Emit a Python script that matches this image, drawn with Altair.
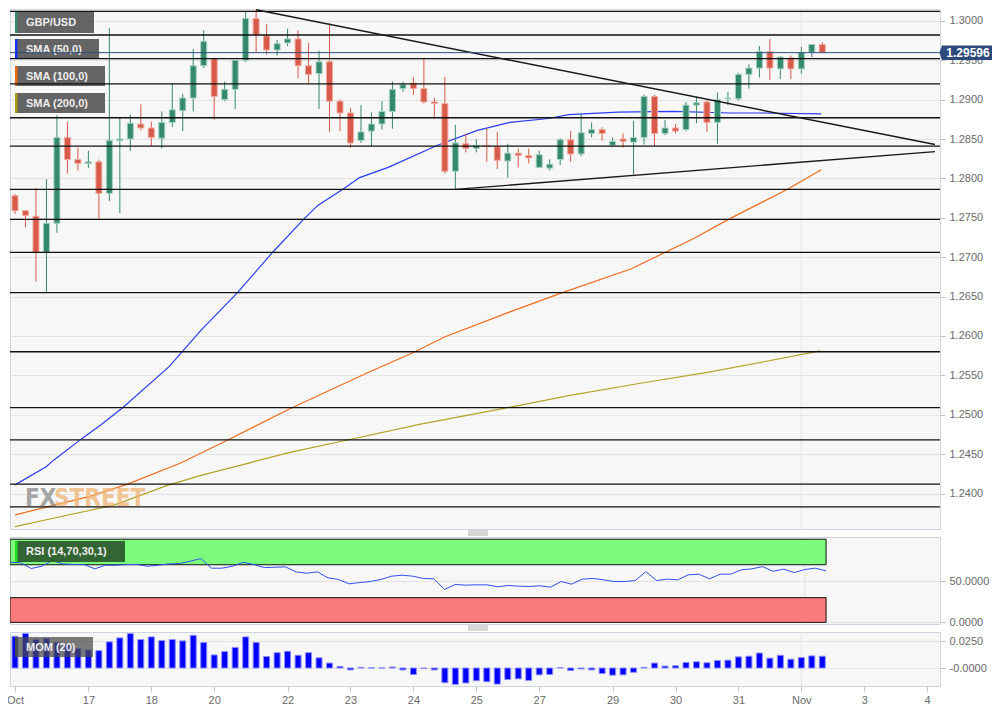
import altair as alt
import pandas as pd

FONT = "Liberation Sans, Arial, sans-serif"

# ---------------- data (GBP/USD, 4-hour candles) ----------------
opens = [1.2778, 1.2759, 1.2752, 1.2706, 1.2743, 1.2852, 1.2824, 1.2819, 1.2821, 1.2781,
         1.2848, 1.2850, 1.2869, 1.2864, 1.2851, 1.2871, 1.2886, 1.2902, 1.2943, 1.2952,
         1.2900, 1.2913, 1.2950, 1.3003, 1.2981, 1.2963, 1.2972, 1.2977, 1.2943, 1.2933,
         1.2948, 1.2898, 1.2883, 1.2848, 1.2860, 1.2869, 1.2885, 1.2914, 1.2921, 1.2914,
         1.2897, 1.2895, 1.2809, 1.2844, 1.2838, 1.2842, 1.2840, 1.2822, 1.2832, 1.2829,
         1.2814, 1.2813, 1.2824, 1.2849, 1.2831, 1.2857, 1.2862, 1.2842, 1.2850, 1.2846,
         1.2852, 1.2904, 1.2857, 1.2864, 1.2862, 1.2893, 1.2897, 1.2871, 1.2901, 1.2901,
         1.2932, 1.2940, 1.2961, 1.2939, 1.2953, 1.2939, 1.2960, 1.2970]
highs = [1.2780, 1.2760, 1.2788, 1.2799, 1.2880, 1.2872, 1.2839, 1.2835, 1.2824, 1.2991,
         1.2878, 1.2881, 1.2894, 1.2872, 1.2885, 1.2921, 1.2907, 1.2964, 1.2988, 1.2953,
         1.2923, 1.2950, 1.3012, 1.3014, 1.2996, 1.2976, 1.2990, 1.2988, 1.2972, 1.2962,
         1.2997, 1.2900, 1.2889, 1.2893, 1.2884, 1.2898, 1.2923, 1.2923, 1.2929, 1.2952,
         1.2902, 1.2929, 1.2868, 1.2857, 1.2850, 1.2863, 1.2859, 1.2844, 1.2838, 1.2838,
         1.2835, 1.2824, 1.2851, 1.2860, 1.2882, 1.2871, 1.2865, 1.2852, 1.2857, 1.2873,
         1.2906, 1.2906, 1.2874, 1.2869, 1.2897, 1.2904, 1.2899, 1.2909, 1.2910, 1.2934,
         1.2945, 1.2968, 1.2977, 1.2955, 1.2956, 1.2967, 1.2970, 1.2973]
lows = [1.2755, 1.2738, 1.2669, 1.2655, 1.2731, 1.2806, 1.2810, 1.2813, 1.2748, 1.2771,
        1.2756, 1.2835, 1.2861, 1.2841, 1.2838, 1.2865, 1.2860, 1.2885, 1.2940, 1.2874,
        1.2898, 1.2888, 1.2948, 1.2960, 1.2957, 1.2956, 1.2968, 1.2927, 1.2921, 1.2888,
        1.2859, 1.2860, 1.2839, 1.2845, 1.2841, 1.2862, 1.2863, 1.2910, 1.2906, 1.2895,
        1.2876, 1.2806, 1.2786, 1.2833, 1.2833, 1.2821, 1.2812, 1.2801, 1.2814, 1.2819,
        1.2813, 1.2810, 1.2817, 1.2821, 1.2828, 1.2852, 1.2848, 1.2840, 1.2839, 1.2805,
        1.2843, 1.2841, 1.2855, 1.2857, 1.2860, 1.2870, 1.2859, 1.2844, 1.2893, 1.2899,
        1.2914, 1.2928, 1.2925, 1.2926, 1.2926, 1.2933, 1.2954, 1.2960]
closes = [1.2759, 1.2753, 1.2706, 1.2743, 1.2852, 1.2824, 1.2819, 1.2821, 1.2781, 1.2848,
          1.2850, 1.2870, 1.2864, 1.2852, 1.2871, 1.2887, 1.2902, 1.2943, 1.2974, 1.2904,
          1.2913, 1.2950, 1.3003, 1.2982, 1.2963, 1.2971, 1.2977, 1.2943, 1.2932, 1.2948,
          1.2898, 1.2883, 1.2845, 1.2859, 1.2869, 1.2885, 1.2913, 1.2919, 1.2914, 1.2897,
          1.2895, 1.2809, 1.2845, 1.2838, 1.2842, 1.2841, 1.2823, 1.2832, 1.2829, 1.2826,
          1.2830, 1.2818, 1.2849, 1.2831, 1.2858, 1.2862, 1.2857, 1.2847, 1.2847, 1.2852,
          1.2904, 1.2857, 1.2864, 1.2860, 1.2893, 1.2896, 1.2871, 1.2900, 1.2902, 1.2932,
          1.2940, 1.2961, 1.2940, 1.2954, 1.2939, 1.2960, 1.2970, 1.29596]

sma50_x = [0, 2.97, 3.75, 6.4, 8.17, 10.27, 14.7, 17.73, 21.22, 24.49, 27.52, 28.91, 31.24,
           32.87, 35.6, 40.3, 44.1, 47.2, 50.9, 52.8, 57.5, 62.8, 68.2, 71.25, 76.9]
sma50_y = [1.2411, 1.2434, 1.2443, 1.2470, 1.2487, 1.2509, 1.2561, 1.2607, 1.2655, 1.2705,
           1.2748, 1.2766, 1.2786, 1.2801, 1.2814, 1.2842, 1.2861, 1.2871, 1.2876, 1.2881,
           1.2884, 1.2885, 1.2883, 1.2883, 1.2882]
sma100_x = [0, 3.09, 7.01, 10.74, 15.86, 20.29, 26.12, 33.57, 38.0, 41.02, 47.08, 52.21,
            58.73, 64.79, 68.05, 73.64, 76.9]
sma100_y = [1.2373, 1.2383, 1.2396, 1.2412, 1.2439, 1.2468, 1.2507, 1.2553, 1.2579, 1.2599,
            1.2630, 1.2655, 1.2685, 1.2724, 1.2748, 1.2786, 1.2811]
sma200_x = [0, 3.75, 9.37, 14.47, 17.73, 22.39, 26.12, 31.71, 38.7, 46.62, 52.68, 59.66,
            66.19, 71.31, 76.81]
sma200_y = [1.2358, 1.2369, 1.2385, 1.2410, 1.2423, 1.2439, 1.2452, 1.2468, 1.2488, 1.2508,
            1.2524, 1.2540, 1.2554, 1.2567, 1.2581]

rsi_vals = [73.0, 72.5, 65.4, 68.2, 75.1, 71.0, 70.2, 70.2, 65.0, 69.4,
            69.4, 70.2, 70.2, 68.2, 69.4, 71.0, 71.4, 74.3, 77.5, 65.8,
            65.8, 68.2, 73.0, 70.2, 66.6, 67.0, 67.4, 61.3, 59.7, 61.3,
            54.1, 52.1, 46.8, 48.4, 49.6, 52.1, 56.1, 57.3, 56.1, 53.3,
            52.9, 40.0, 46.0, 45.2, 45.6, 45.6, 43.2, 44.8, 44.0, 43.6,
            44.4, 42.8, 49.6, 46.4, 52.5, 53.3, 51.7, 49.6, 49.6, 50.8,
            61.7, 50.8, 52.5, 51.7, 57.7, 58.5, 52.9, 58.5, 58.5, 63.8,
            65.0, 67.8, 62.1, 64.6, 60.5, 64.2, 65.8, 62.6]
mom_vals = [0.0296, 0.0321, 0.0266, 0.0275, 0.0240, 0.0220, 0.0183, 0.0168, 0.0162, 0.0244,
            0.0281, 0.0321, 0.0266, 0.0290, 0.0256, 0.0266, 0.0253, 0.0305, 0.0238, 0.0122,
            0.0153, 0.0192, 0.0290, 0.0238, 0.0107, 0.0143, 0.0156, 0.0119, 0.0143, 0.0095,
            0.0046, 0.0015, -0.0018, 0.0006, 0.0002, 0.0001, 0.0009, -0.0018, -0.0061, -0.0005,
            -0.0018, -0.0137, -0.0153, -0.0140, -0.0119, -0.0128, -0.0150, -0.0107, -0.0101, -0.0116,
            -0.0064, -0.0061, 0.0003, -0.0024, -0.0009, -0.0018, -0.0052, -0.0067, -0.0064, -0.0040,
            0.0006, 0.0046, 0.0018, 0.0021, 0.0052, 0.0058, 0.0049, 0.0070, 0.0073, 0.0104,
            0.0110, 0.0140, 0.0092, 0.0119, 0.0082, 0.0098, 0.0113, 0.0110]

levels = [1.3012, 1.2982, 1.2952, 1.2920, 1.2877, 1.2841, 1.2786, 1.2748, 1.2706, 1.2655,
          1.2580, 1.2509, 1.2468, 1.2412, 1.2383]
last_price = [1.29596]
down_x = [23, 87.75]
down_y = [1.3014, 1.2843]
up_x = [42, 87.75]
up_y = [1.2786, 1.2834]

tick_idx = [0, 7, 13, 19, 26, 32, 38, 44, 50, 57, 63, 69, 75, 81, 87]
tick_lbl = ["Oct", "17", "18", "20", "22", "23", "24", "25", "27", "29", "30", "31", "Nov", "3", "4"]
price_ticks = [1.240, 1.245, 1.250, 1.255, 1.260, 1.265, 1.270, 1.275, 1.280, 1.285,
               1.290, 1.295, 1.300]
month_idx = [75]
legend_labels = ["GBP/USD", "SMA (50,0)", "SMA (100,0)", "SMA (200,0)"]
band_end = [77]

# ---------------- layout / style ----------------
W = 930
H_MAIN = 520
H_RSI = 87
H_MOM = 54
GAP = 8
X_DOMAIN = [0, 87.75]
GREEN, GREEN_EDGE = "#35896c", "#a3d2c2"
RED, RED_EDGE = "#d85a48", "#f2aaa0"
LABEL_GRAY = "#6a6a6a"
TICK_C = "#b9c3d6"

xscale = alt.Scale(domain=X_DOMAIN, nice=False, zero=False)


def Xn(field):
    return alt.X(field, type="quantitative", scale=xscale, axis=None)


lbl_expr = ("[" + ",".join("'%s'" % s for s in tick_lbl) + "][indexof(["
            + ",".join(str(v) for v in tick_idx) + "], datum.value)]")
x_axis_bottom = alt.Axis(values=tick_idx, labelExpr=lbl_expr, grid=False, tickSize=5,
                         tickColor=TICK_C, domain=False, labelFontSize=11, labelFont=FONT,
                         labelColor=LABEL_GRAY, labelPadding=3, title=None,
                         labelFlush=True, labelOverlap=False)


def Xb(field):
    return alt.X(field, type="quantitative", scale=xscale, axis=x_axis_bottom)


y_main_scale = alt.Scale(domain=[1.2355, 1.3015], nice=False, zero=False)
y_main_axis = alt.Axis(orient="right", values=price_ticks, format=".4f", grid=True,
                       gridColor="#e3e3e3", tickSize=5, tickColor=TICK_C, domain=False,
                       labelPadding=4, labelFontSize=11, labelFont=FONT,
                       labelColor=LABEL_GRAY, title=None)


def Ym(field):
    return alt.Y(field, type="quantitative", scale=y_main_scale, axis=y_main_axis)


def label_box(text, x0, x1, y0, y1, bg, bg_op, strip, tcolor):
    d = alt.Chart(pd.DataFrame({"t": [text]}))
    r = d.mark_rect(color=bg, opacity=bg_op).encode(
        x=alt.value(x0), x2=alt.value(x1), y=alt.value(y0), y2=alt.value(y1))
    s = d.mark_rect(color=strip).encode(
        x=alt.value(x0), x2=alt.value(x0 + 2.5), y=alt.value(y0), y2=alt.value(y1))
    t = d.mark_text(align="left", baseline="middle", font=FONT, fontSize=11,
                    fontWeight="bold", color=tcolor).encode(
        x=alt.value(x0 + 11), y=alt.value((y0 + y1) / 2 + 0.5), text="t:N")
    return [r, s, t]


def handle(y0):
    d = alt.Chart(pd.DataFrame({"k": [0]}))
    return [d.mark_rule(color="#9a9a9a", strokeWidth=0.8).encode(
        x=alt.value(458), x2=alt.value(478), y=alt.value(y0 + 2 * k)) for k in range(3)]


# ---------------- main panel ----------------
candles = pd.DataFrame({"i": list(range(len(opens))), "o": opens, "h": highs,
                        "l": lows, "c": closes})
up_cond = "datum.c >= datum.o"

month_rule = alt.Chart(pd.DataFrame({"m": month_idx})).mark_rule(
    color="#e3e3e3", strokeWidth=1).encode(x=Xn("m"))

level_rules = alt.Chart(pd.DataFrame({"lv": levels})).mark_rule(
    color="#111111", strokeWidth=1.3).encode(y=Ym("lv"))

sma_layers = []
for xs_, ys_, col in [(sma200_x, sma200_y, "#b4a324"), (sma100_x, sma100_y, "#f06c1e"),
                      (sma50_x, sma50_y, "#2a3cf5")]:
    sma_layers.append(alt.Chart(pd.DataFrame({"i": xs_, "v": ys_})).mark_line(
        color=col, strokeWidth=1.2, clip=True).encode(x=Xn("i"), y=Ym("v")))

wicks = alt.Chart(candles).mark_rule(strokeWidth=1, clip=True).encode(
    x=Xn("i"), y=Ym("l"), y2="h:Q",
    color=alt.condition(up_cond, alt.value(GREEN), alt.value(RED)))
bodies = alt.Chart(candles).mark_bar(size=6, strokeWidth=1, clip=True).encode(
    x=Xn("i"), y=Ym("o"), y2="c:Q",
    fill=alt.condition(up_cond, alt.value(GREEN), alt.value(RED)),
    stroke=alt.condition(up_cond, alt.value(GREEN_EDGE), alt.value(RED_EDGE)))

trend_layers = []
for tx, ty in [(down_x, down_y), (up_x, up_y)]:
    trend_layers.append(alt.Chart(pd.DataFrame({"i": tx, "v": ty})).mark_line(
        color="#1a1a1a", strokeWidth=1.4, clip=True).encode(x=Xn("i"), y=Ym("v")))

price_df = pd.DataFrame({"p": last_price})
price_line = alt.Chart(price_df).mark_rule(color="#2f4f80", strokeWidth=1).encode(y=Ym("p"))
tag_shape = "M-1.1,0L-1,-0.29L1,-0.29L1,0.29L-1,0.29Z"
price_tag = alt.Chart(price_df).mark_point(
    shape=tag_shape, size=2500, filled=True, color="#2d4a7a", opacity=1, strokeWidth=0
).encode(x=alt.value(W + 27), y=Ym("p"))
price_txt = alt.Chart(price_df).transform_calculate(
    t="format(datum.p, '.5f')").mark_text(
    font=FONT, fontSize=12, fontWeight="bold", color="white", align="center",
    baseline="middle").encode(x=alt.value(W + 28), y=Ym("p"), text="t:N")

wm = alt.Chart(pd.DataFrame({"a": ["FX"], "b": ["STREET"]}))
wm_fx = wm.mark_text(font="DejaVu Sans Condensed", fontWeight="bold", fontSize=24,
                     color="#8a8a8a", opacity=0.75, align="left", baseline="alphabetic").encode(
    x=alt.value(15), y=alt.value(H_MAIN - 23), text="a:N")
wm_st = wm.mark_text(font="DejaVu Sans Condensed", fontWeight="bold", fontSize=24,
                     color="#f0b472", opacity=0.75, align="left", baseline="alphabetic").encode(
    x=alt.value(44), y=alt.value(H_MAIN - 23), text="b:N")

boxes = []
box_geo = [(84, 3, 24, GREEN), (89, 30, 50, "#1530ff"), (95, 57, 77, "#e8680f"),
           (95, 84, 104, "#ab9c12")]
for lab, (x1, y0, y1, sc) in zip(legend_labels, box_geo):
    boxes += label_box(lab, 5, x1, y0, y1, "#5f5f5f", 0.97, sc, "#eeeeee")

main = alt.layer(
    month_rule, *sma_layers, wicks, bodies, *boxes, level_rules, *trend_layers,
    price_line, wm_fx, wm_st, price_tag, price_txt, *handle(H_MAIN + 2)
).properties(width=W, height=H_MAIN)

# ---------------- RSI panel ----------------
y_rsi_scale = alt.Scale(domain=[-2, 103.7], nice=False, zero=False)
y_rsi_axis = alt.Axis(orient="right", values=[0, 50], format=".4f", grid=True,
                      gridColor="#e3e3e3", tickSize=5, tickColor=TICK_C, domain=False,
                      labelPadding=4, labelFontSize=11, labelFont=FONT,
                      labelColor=LABEL_GRAY, title=None)


def Yr(field):
    return alt.Y(field, type="quantitative", scale=y_rsi_scale, axis=y_rsi_axis)


bands = pd.DataFrame({"x0": [X_DOMAIN[0]] * 2, "x1": band_end * 2, "lo": [70, 0],
                      "hi": [101, 30], "kind": ["ob", "os"]})
band_layer = alt.Chart(bands).mark_rect(stroke="#111111", strokeWidth=1, clip=True).encode(
    x=Xn("x0"), x2="x1:Q", y=Yr("lo"), y2="hi:Q",
    fill=alt.condition("datum.kind == 'ob'", alt.value("#7cfb7c"), alt.value("#fa7b7b")))
rsi_df = pd.DataFrame({"i": list(range(len(rsi_vals))), "r": rsi_vals})
rsi_line = alt.Chart(rsi_df).mark_line(color="#3050f0", strokeWidth=1, clip=True).encode(
    x=Xn("i"), y=Yr("r"))
rsi_month = alt.Chart(pd.DataFrame({"m": month_idx})).mark_rule(
    color="#e3e3e3", strokeWidth=1).encode(x=Xn("m"))
rsi = alt.layer(
    rsi_month, band_layer, rsi_line,
    *label_box("RSI (14,70,30,1)", 5, 115, 4, 25, "#2f5c2f", 0.95, "#22e022", "#eeeeee"),
    *handle(H_RSI + 2)
).properties(width=W, height=H_RSI)

# ---------------- MOM panel ----------------
y_mom_scale = alt.Scale(domain=[-0.0168, 0.0336], nice=False, zero=False)
y_mom_axis = alt.Axis(orient="right", values=[0, 0.025], grid=True, gridColor="#e3e3e3",
                      labelExpr="datum.value == 0 ? '-0.0000' : format(datum.value, '.4f')",
                      tickSize=5, tickColor=TICK_C, domain=False, labelPadding=4,
                      labelFontSize=11, labelFont=FONT, labelColor=LABEL_GRAY, title=None)


def Yo(field):
    return alt.Y(field, type="quantitative", scale=y_mom_scale, axis=y_mom_axis)


mom_df = pd.DataFrame({"i": list(range(len(mom_vals))), "m": mom_vals})
mom_month = alt.Chart(pd.DataFrame({"mm": month_idx})).mark_rule(
    color="#e3e3e3", strokeWidth=1).encode(x=Xb("mm"))
mom_bars = alt.Chart(mom_df).transform_calculate(z="0").mark_bar(
    size=6, color="#0000ff", stroke="#8c8cff", strokeWidth=1, clip=True).encode(
    x=Xb("i"), y=Yo("m"), y2="z:Q")
mom = alt.layer(
    mom_month, mom_bars,
    *label_box("MOM (20)", 5, 83, 5, 25, "#4a4a4a", 0.72, "#4a4a4a", "#eeeeee")
).properties(width=W, height=H_MOM)

chart = alt.vconcat(main, rsi, mom, spacing=GAP, bounds="flush").properties(
    padding={"left": -3, "top": 0, "right": 2, "bottom": 0}
).configure(background="white").configure_view(
    fill="#f7f7f7", stroke="#cdd5e2", strokeWidth=1)

chart.save("out.html", embed_options={"renderer": "svg", "actions": False})
